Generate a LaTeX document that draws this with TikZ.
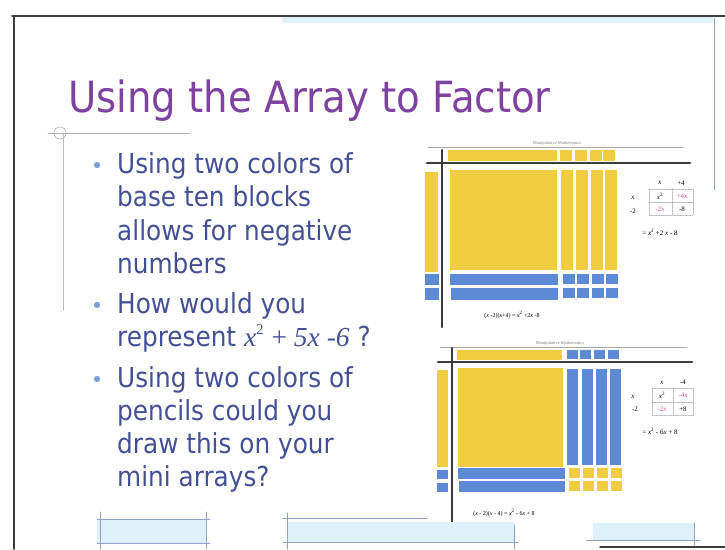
\documentclass[tikz,border=0pt]{standalone}
\usepackage{fontspec}
\setmainfont{DejaVu Sans}
\newfontfamily\slidefont{DejaVu Sans}[FakeStretch=0.9]
\newfontfamily\timesfont{Liberation Serif}

\definecolor{titlepurple}{RGB}{128,66,160}
\definecolor{textblue}{RGB}{68,80,150}
\definecolor{dotblue}{RGB}{125,160,215}
\definecolor{blockyellow}{RGB}{242,204,64}
\definecolor{blockblue}{RGB}{92,138,212}
\definecolor{cellred}{RGB}{220,80,120}
\definecolor{framegray}{RGB}{60,60,60}
\definecolor{paleblue}{RGB}{222,240,250}
\definecolor{ruleblue}{RGB}{140,160,200}

\newcommand\vx{{\timesfont\itshape x}}
\newcommand\bigsq{\raisebox{0.42em}{\timesfont\fontsize{15}{15}\selectfont 2}}

\tikzset{
  bullettext/.style={anchor=base west, inner sep=0pt, text=textblue,
    font=\slidefont\fontsize{27.5}{33}\selectfont},
  yel/.style={fill=blockyellow, draw=none},
  blu/.style={fill=blockblue, draw=none},
  axisline/.style={draw=framegray, line width=2.4pt},
  tinytext/.style={inner sep=0pt, font=\timesfont\fontsize{6}{7}\selectfont},
  celltext/.style={inner sep=0pt, font=\timesfont\fontsize{7}{8}\selectfont},
  cellgrid/.style={draw=gray!70, densely dotted, line width=0.5pt},
  deco/.style={fill=paleblue, draw=none},
  decoline/.style={draw=ruleblue, line width=0.7pt},
}

\begin{document}
\begin{tikzpicture}[x=1pt, y=-1pt, line cap=round, line join=round]
  \useasboundingbox (0,0) rectangle (725,549);
  \fill[white] (0,0) rectangle (725,549);

  % slide frame
  \fill[paleblue] (282,17) rectangle (713,23);
  \draw[framegray, line width=1.4pt] (12,16) -- (725,16);
  \draw[framegray, line width=1.4pt] (14,16) -- (14,549);
  \draw[ruleblue, line width=0.6pt] (714,18) -- (714,190);
  \draw[framegray, line width=1.4pt] (600,547) -- (725,547);

  % title and its rule
  \node[anchor=base west, inner sep=0pt, text=titlepurple,
    font=\slidefont\fontsize{43}{48}\selectfont] (title) at (68,112) {Using the Array to Factor};
  \draw[gray!60, line width=0.6pt] (48,133) -- (190,133);
  \draw[gray!60, line width=0.6pt] (60,133) circle (6);
  \draw[ruleblue!70, line width=0.6pt] (63,133) -- (63,310);

  % bullets
  \foreach \n/\yy/\t in {a1/173/Using two colors of, a2/206/base ten blocks,
      a3/240/allows for negative, a4/273/numbers,
      b1/313/How would you,
      b2/346/{represent \vx\bigsq\ {\timesfont + \itshape 5x -6} ?},
      c1/387/Using two colors of, c2/420/pencils could you,
      c3/453/draw this on your, c4/486/mini arrays?}
    \node[bullettext] (\n) at (117,\yy) {\t};
  \foreach \yy in {165,305,379}
    \fill[dotblue] (97,\yy) circle (3.2);

  % first array: (x-2)(x+4)
  \node[tinytext, text=gray, font=\timesfont\itshape\fontsize{4.5}{5}\selectfont] (headA) at (557,143) {\textsc{Manipulative Mathematics}};
  \draw[gray!70, line width=0.5pt] (428,147) -- (683,147);
  \fill[yel] (448,150) rectangle (557,161);
  \foreach \xx in {560,575,590,603}
    \fill[yel] (\xx,150) rectangle ++(12,11);
  \fill[yel] (425,172) rectangle (438,272);
  \fill[blu] (425,274) rectangle (439,285);
  \fill[blu] (425,288) rectangle (439,300);
  \fill[yel] (450,170) rectangle (557,270);
  \foreach \xx in {561,576,591,605}
    \fill[yel] (\xx,170) rectangle ++(12,100);
  \fill[blu] (450,274) rectangle (558,285);
  \fill[blu] (451,288) rectangle (558,300);
  \foreach \xx in {563,577,592,606} {
    \fill[blu] (\xx,274) rectangle ++(12,10);
    \fill[blu] (\xx,288) rectangle ++(12,10);
  }
  \draw[axisline] (442,150) -- (442,327);
  \draw[axisline] (427,163) -- (690,163);
  \node[tinytext] (eqA) at (512,315) {(\vx\ -2)(\vx+4) = \vx\textsuperscript{2} +2\vx\ -8};

  % first table
  \draw[cellgrid] (649,189) rectangle (693,215);
  \draw[cellgrid] (672,189) -- (672,215);
  \draw[cellgrid] (649,202) -- (693,202);
  \node[celltext] (colA1) at (660,183) {\vx};
  \node[celltext] (colA2) at (681,183) {+4};
  \node[celltext] (rowA1) at (633,198) {\vx};
  \node[celltext] (rowA2) at (633,211) {-2};
  \node[celltext] (cellA11) at (660,196) {\vx\textsuperscript{2}};
  \node[celltext, text=cellred] (cellA12) at (682,196) {+4\vx};
  \node[celltext, text=cellred] (cellA21) at (660,209) {-2\vx};
  \node[celltext] (cellA22) at (682,209) {-8};
  \node[celltext] (resA) at (660,232) {= \vx\textsuperscript{2} +2 \vx\ - 8};

  % second array: (x-2)(x-4)
  \node[tinytext, text=gray, font=\timesfont\itshape\fontsize{4.5}{5}\selectfont] (headB) at (560,343) {\textsc{Manipulative Mathematics}};
  \draw[gray!70, line width=0.5pt] (440,347) -- (687,347);
  \fill[yel] (457,350) rectangle (562,360);
  \foreach \xx in {567,580,594,608}
    \fill[blu] (\xx,350) rectangle ++(11,9);
  \fill[yel] (437,370) rectangle (448,467);
  \fill[blu] (437,470) rectangle (448,479);
  \fill[blu] (437,483) rectangle (448,492);
  \fill[yel] (458,368) rectangle (563,467);
  \foreach \xx in {567,582,596,610}
    \fill[blu] (\xx,369) rectangle ++(11,96);
  \fill[blu] (458,468) rectangle (565,479);
  \fill[blu] (459,481) rectangle (565,492);
  \foreach \xx in {569,583,597,611} {
    \fill[yel] (\xx,468) rectangle ++(11,10);
    \fill[yel] (\xx,481) rectangle ++(11,10);
  }
  \draw[axisline] (452,348) -- (452,522);
  \draw[axisline] (438,362) -- (692,362);
  \node[tinytext] (eqB) at (504,513) {(\vx\ - 2)(\vx\ - 4) = \vx\textsuperscript{2} - 6\vx\ + 8};

  % second table
  \draw[cellgrid] (652,388) rectangle (693,415);
  \draw[cellgrid] (673,388) -- (673,415);
  \draw[cellgrid] (652,402) -- (693,402);
  \node[celltext] (colB1) at (662,383) {\vx};
  \node[celltext] (colB2) at (683,382) {-4};
  \node[celltext] (rowB1) at (633,397) {\vx};
  \node[celltext] (rowB2) at (635,409) {-2};
  \node[celltext] (cellB11) at (662,395) {\vx\textsuperscript{2}};
  \node[celltext, text=cellred] (cellB12) at (683,395) {-4\vx};
  \node[celltext, text=cellred] (cellB21) at (662,409) {-2\vx};
  \node[celltext] (cellB22) at (683,409) {+8};
  \node[celltext] (resB) at (660,431) {= \vx\textsuperscript{2} - 6\vx\ + 8};

  % pale boxes along the bottom
  \fill[deco] (97,520) rectangle (206,543);
  \draw[decoline] (97,519) -- (210,519);
  \draw[decoline] (97,543) -- (210,543);
  \draw[decoline] (100,512) -- (100,549);
  \draw[decoline] (206,512) -- (206,549);
  \fill[deco] (287,522) rectangle (514,542);
  \draw[decoline] (283,518) -- (427,518);
  \draw[decoline] (283,542) -- (518,542);
  \draw[decoline] (287,513) -- (287,549);
  \draw[decoline] (514,525) -- (514,549);
  \fill[deco] (593,523) rectangle (694,540);
  \draw[decoline] (586,540) -- (700,540);
  \draw[decoline] (694,523) -- (694,546);
\end{tikzpicture}
\end{document}
